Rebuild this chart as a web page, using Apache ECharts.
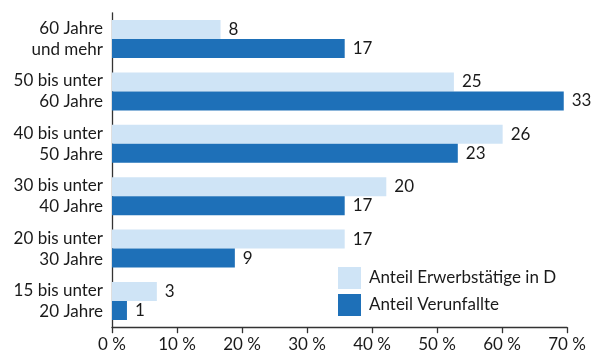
<!DOCTYPE html>
<html><head><meta charset="utf-8">
<script src="https://cdn.jsdelivr.net/npm/echarts@6/dist/echarts.min.js"></script>
<style>html,body{margin:0;padding:0;background:#fff}#c{width:593px;height:356px}</style>
</head><body><div id="c"></div>
<script>
// categories (top to bottom)
const categories = ["60 Jahre\nund mehr","50 bis unter\n60 Jahre","40 bis unter\n50 Jahre","30 bis unter\n40 Jahre","20 bis unter\n30 Jahre","15 bis unter\n20 Jahre"];
// bar lengths as drawn on the % axis
const erwerbBars = [16.7, 52.6, 60.1, 42.2, 35.8, 6.9];
const verunfBars = [35.8, 69.5, 53.2, 35.8, 18.9, 2.3];
// printed values next to the bars
const erwerbLabels = [8, 25, 26, 20, 17, 3];
const verunfLabels = [17, 33, 23, 17, 9, 1];
const xTicks = [0,10,20,30,40,50,60,70];
const seriesNames = ["Anteil Erwerbstätige in D","Anteil Verunfallte"];

const FONT = "Lato";
const TXT = "#1a1a1a";
const chart = echarts.init(document.getElementById('c'));
chart.setOption({
  animation:false,
  textStyle:{fontFamily:FONT},
  grid:{left:112, right:26, top:12.8, bottom:28.8, containLabel:false},
  xAxis:{type:'value', min:xTicks[0], max:xTicks[xTicks.length-1], interval:10,
    axisLine:{show:true, lineStyle:{color:'#333', width:1.3}},
    axisTick:{show:true, length:6, lineStyle:{color:'#333', width:1.3}},
    splitLine:{show:false},
    axisLabel:{fontFamily:FONT, fontSize:17, color:TXT, margin:9, formatter:v=>v+' %'}},
  yAxis:{type:'category', data:categories, inverse:true,
    axisLine:{show:true, lineStyle:{color:'#333', width:1.3}},
    axisTick:{show:false},
    axisLabel:{fontFamily:FONT, fontSize:17, color:TXT, margin:9, lineHeight:21, align:'right'}},
  legend:{orient:'vertical', left:338, top:267, itemWidth:23, itemHeight:22, itemGap:5, padding:0,
    icon:'rect', textStyle:{fontFamily:FONT, fontSize:17, color:TXT, padding:[0,0,0,3]},
    data:seriesNames},
  series:[
    {name:seriesNames[0], type:'bar', data:erwerbBars, barWidth:19, barGap:'0%',
     itemStyle:{color:'#cfe4f6'},
     label:{show:true, position:'right', distance:8, fontFamily:FONT, fontSize:17, color:TXT,
       formatter:p=>String(erwerbLabels[p.dataIndex])}},
    {name:seriesNames[1], type:'bar', data:verunfBars, barWidth:19, barGap:'0%',
     itemStyle:{color:'#1e70b8'},
     label:{show:true, position:'right', distance:8, fontFamily:FONT, fontSize:17, color:TXT,
       formatter:p=>String(verunfLabels[p.dataIndex])}}
  ]
});
</script></body></html>
